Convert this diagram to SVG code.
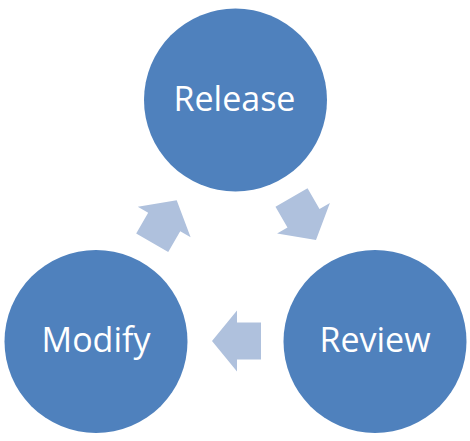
<svg xmlns="http://www.w3.org/2000/svg" width="470" height="441" viewBox="0 0 470 441">
<style>
.node{fill:#4f81bd}
.lbl{fill:#ffffff;font-family:"Open Sans","Liberation Sans",sans-serif;font-size:34px;text-anchor:middle}
.arr{fill:#afc1dd}
</style>
<defs>
<path id="ar" d="M0,0 L-25,-30.5 L-25,-18.5 L-49,-18.5 L-49,18.5 L-25,18.5 L-25,30.5 Z"/>
</defs>
<rect width="470" height="441" fill="#ffffff"/>
<g id="connectors" class="arr">
<use href="#ar" transform="translate(316,240) rotate(60)"/>
<use href="#ar" transform="translate(212,341) rotate(180)"/>
<use href="#ar" transform="translate(176.7,200.3) rotate(-60)"/>
</g>
<g id="release"><circle class="node" cx="235.5" cy="100" r="91.5"/><text class="lbl" x="234.5" y="111">Release</text></g>
<g id="review"><circle class="node" cx="375" cy="341.5" r="91.5"/><text class="lbl" x="375" y="352">Review</text></g>
<g id="modify"><circle class="node" cx="96" cy="341.5" r="91.5"/><text class="lbl" x="96" y="352">Modify</text></g>
</svg>
